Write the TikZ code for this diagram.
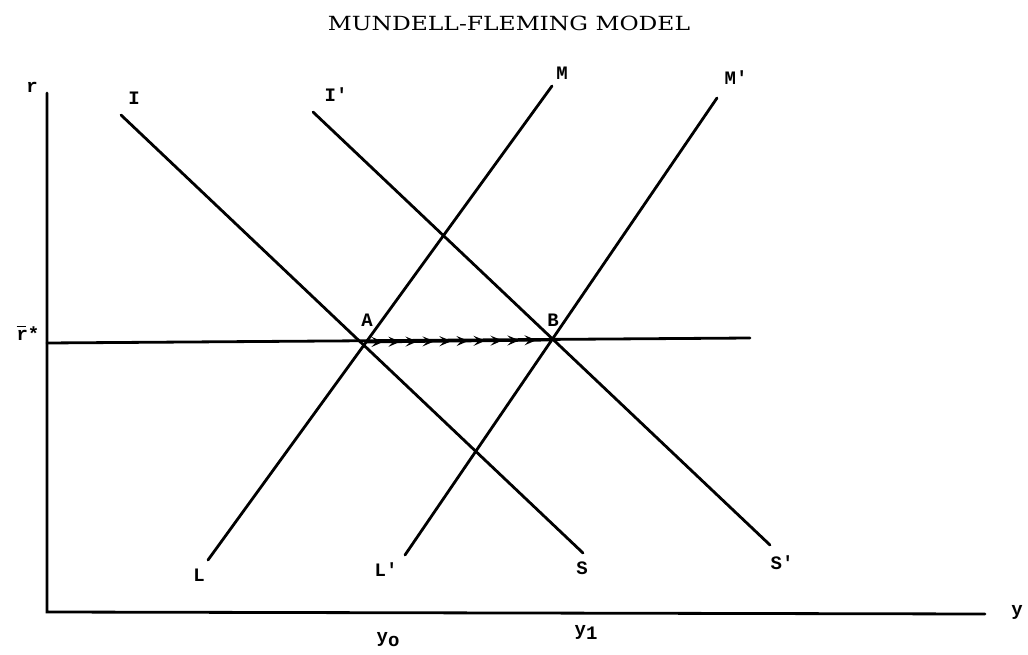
\documentclass[tikz,border=0pt]{standalone}
\usepackage{fontspec}
\setmainfont{DejaVu Serif}
\newfontfamily\lblfont{Liberation Mono}
\usetikzlibrary{decorations.markings,arrows.meta}
\newcommand{\rbar}{\rlap{\rule[0.72em]{0.5em}{1.3pt}}r}
\begin{document}
\begin{tikzpicture}[x=1pt,y=-1pt,
  curve/.style={line width=2.8pt,line cap=round},
  lbl/.style={font=\lblfont\bfseries\fontsize{19}{19}\selectfont,inner sep=0pt},
  chain/.style={line width=2.8pt,postaction={decorate},
    decoration={markings,mark=between positions 0.1 and 0.99 step 17pt with {\arrow{Stealth[length=12pt,width=10pt,inset=5pt]}}}}]
\useasboundingbox (0,0) rectangle (1028,655);
\fill[white] (0,0) rectangle (1028,655);
\node[font=\fontsize{19.5}{19.5}\selectfont,inner sep=0pt,xscale=1.2] (title) at (509,23) {MUNDELL-FLEMING MODEL};
% axes
\coordinate (o) at (47,612);
\coordinate (rtop) at (47,93);
\coordinate (xend) at (985,614);
\draw[curve] (rtop) -- (o) -- (xend);
% r* line
\coordinate (rs0) at (47,343);
\coordinate (rs1) at (750,338);
\draw[curve] (rs0) -- (rs1);
% curves
\coordinate (Itop) at (121,115);
\coordinate (Sbot) at (583,553);
\coordinate (Iptop) at (313,112);
\coordinate (Spbot) at (770,545);
\coordinate (Mtop) at (552,86);
\coordinate (Lbot) at (208,560);
\coordinate (Mptop) at (717,98);
\coordinate (Lpbot) at (405,555);
\draw[curve] (Itop) -- (Sbot);
\draw[curve] (Iptop) -- (Spbot);
\draw[curve] (Lbot) -- (Mtop);
\draw[curve] (Lpbot) -- (Mptop);
% equilibria
\coordinate (A) at (365,342);
\coordinate (B) at (550,340);
\draw[chain] (A) -- (B);
% labels
\node[lbl] (lr) at (32,87) {r};
\node[lbl] (lrs) at (28,333) {\rbar*};
\node[lbl] (lI) at (134,98) {I};
\node[lbl] (lIp) at (336,95) {I'};
\node[lbl] (lM) at (562,73) {M};
\node[lbl] (lMp) at (736,78) {M'};
\node[lbl] (lA) at (367,320) {A};
\node[lbl] (lB) at (553,320) {B};
\node[lbl] (lL) at (199,575) {L};
\node[lbl] (lLp) at (386,570) {L'};
\node[lbl] (lS) at (582,568) {S};
\node[lbl] (lSp) at (782,563) {S'};
\node[lbl] (ly) at (1017,612) {y};
\node[lbl] (ly0) at (388,640) {y\raisebox{-0.4ex}{o}};
\node[lbl] (ly1) at (586,632) {y\raisebox{-0.4ex}{1}};
\end{tikzpicture}
\end{document}
